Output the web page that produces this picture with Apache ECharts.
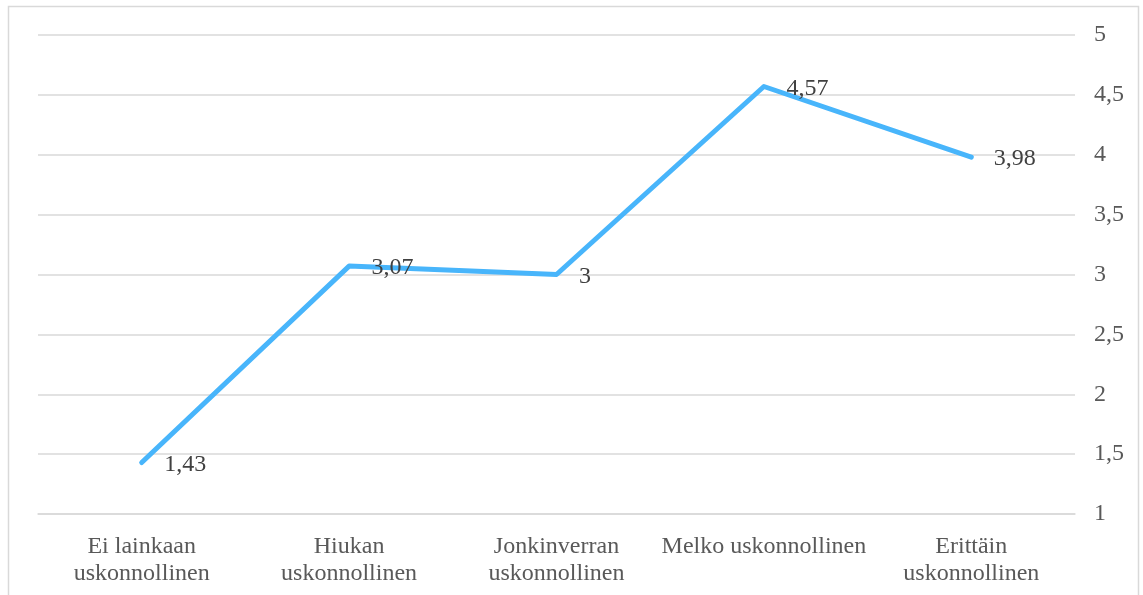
<!DOCTYPE html>
<html>
<head>
<meta charset="utf-8">
<script src="https://cdn.jsdelivr.net/npm/echarts@6/dist/echarts.min.js"></script>
<style>html,body{margin:0;padding:0;background:#fff;}#c{width:1143px;height:595px;}</style>
</head>
<body>
<div id="c"></div>
<script>
var categories = ['Ei lainkaan\nuskonnollinen', 'Hiukan\nuskonnollinen', 'Jonkinverran\nuskonnollinen', 'Melko uskonnollinen', 'Erittäin\nuskonnollinen'];
var values = [1.43, 3.07, 3, 4.57, 3.98];
var yMin = 1, yMax = 5, yInterval = 0.5;

function fi(v){ return String(v).replace('.', ','); }

var chart = echarts.init(document.getElementById('c'));
chart.setOption({
  animation: false,
  backgroundColor: '#fff',
  textStyle: { fontFamily: 'Liberation Serif' },
  graphic: [{
    type: 'rect', silent: true,
    shape: { x: 8.5, y: 6.5, width: 1130, height: 620 },
    style: { fill: 'none', stroke: '#d9d9d9', lineWidth: 1.5 }
  }],
  grid: { left: 38, right: 68, top: 35, bottom: 81 },
  xAxis: {
    type: 'category',
    data: categories,
    boundaryGap: true,
    axisLine: { show: true, lineStyle: { color: '#d9d9d9', width: 1.5 } },
    axisTick: { show: false },
    axisLabel: { color: '#595959', fontSize: 24, fontFamily: 'Liberation Serif', lineHeight: 27, margin: 19, interval: 0 }
  },
  yAxis: {
    type: 'value',
    position: 'right',
    min: yMin, max: yMax, interval: yInterval,
    axisLine: { show: false },
    axisTick: { show: false },
    splitLine: { lineStyle: { color: '#d9d9d9', width: 1.5 } },
    axisLabel: { color: '#595959', fontSize: 24, fontFamily: 'Liberation Serif', margin: 19, padding: [4, 0, 0, 0], formatter: function(v){ return fi(v); } }
  },
  series: [{
    type: 'line',
    data: values,
    symbol: 'circle',
    symbolSize: 1,
    itemStyle: { color: '#48b5fb' },
    lineStyle: { color: '#48b5fb', width: 5, cap: 'round', join: 'round' },
    label: {
      show: true, position: 'right', distance: 22, offset: [0, 2],
      color: '#404040', fontSize: 24, fontFamily: 'Liberation Serif',
      formatter: function(p){ return fi(p.value); }
    }
  }]
});
</script>
</body>
</html>
